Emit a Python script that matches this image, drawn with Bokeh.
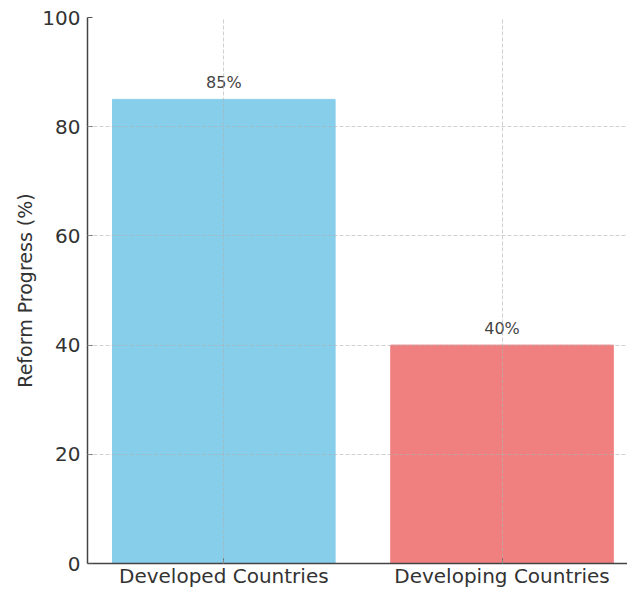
from bokeh.plotting import figure
from bokeh.models import Range1d, FixedTicker, ColumnDataSource
from bokeh.embed import file_html
from bokeh.resources import INLINE
from bokeh.core.properties import value

categories = ["Developed Countries", "Developing Countries"]
progress = [85, 40]
colors = ["#87CEEB", "#F08080"]
y_ticks = [0, 20, 40, 60, 80, 100]

xs = list(range(len(categories)))
labels = [f"{v}%" for v in progress]
src = ColumnDataSource(dict(x=xs, top=progress, color=colors, label=labels))

FONT = "DejaVu Sans"

p = figure(width=627, height=590, output_backend="svg", toolbar_location=None,
           x_range=Range1d(-0.49, 1.451), y_range=Range1d(0, 100),
           min_border_left=87, min_border_right=0, min_border_top=17, min_border_bottom=24)
p.outline_line_color = None

p.vbar(x="x", top="top", width=0.8, bottom=0, color="color", source=src)
p.text(x="x", y="top", text="label", source=src, text_align="center",
       text_baseline="alphabetic", y_offset=-17, text_font=value(FONT),
       text_font_size="16px", text_color="#444444")

p.xaxis.ticker = FixedTicker(ticks=xs)
p.xaxis.major_label_overrides = {i: c for i, c in zip(xs, categories)}
p.yaxis.ticker = FixedTicker(ticks=y_ticks)
p.yaxis.axis_label = "Reform Progress (%)"

for ax in (p.xaxis[0], p.yaxis[0]):
    ax.axis_line_color = "#444444"
    ax.axis_line_width = 1.5
    ax.major_tick_in = 5
    ax.major_tick_out = 0
    ax.major_tick_line_color = "#555555"
    ax.minor_tick_line_color = None
    ax.major_label_text_font = FONT
    ax.major_label_text_font_size = "20px"
    ax.major_label_text_color = "#333333"
    ax.axis_label_text_font = FONT
    ax.axis_label_text_font_size = "19px"
    ax.axis_label_text_font_style = "normal"
    ax.axis_label_text_color = "#333333"

p.yaxis.major_label_standoff = 7
p.yaxis.axis_label_standoff = 3
p.xaxis.major_label_standoff = 0

for g in (p.xgrid[0], p.ygrid[0]):
    g.grid_line_color = "#b0b0b0"
    g.grid_line_alpha = 0.6
    g.grid_line_dash = "4 2"
    g.grid_line_width = 1
    g.level = "overlay"

open("out.html", "w").write(file_html(p, INLINE))
